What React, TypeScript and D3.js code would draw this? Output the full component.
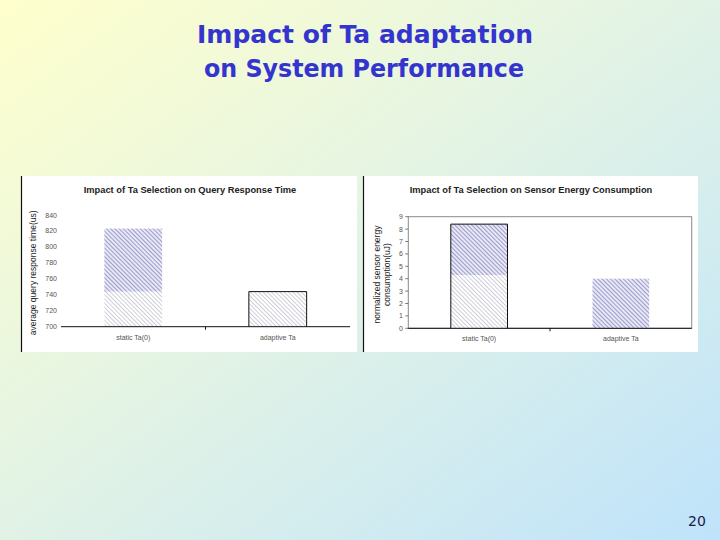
import React from "react";
import * as d3 from "d3";

const categories = ["static Ta(0)", "adaptive Ta"];
const responseTime = [823, 744];
const responseLightTop = [744, 744];
const responseTicks = [700, 720, 740, 760, 780, 800, 820, 840];
const energy = [8.4, 4.0];
const energyLightTop = [4.3, 0];
const energyTicks = [0, 1, 2, 3, 4, 5, 6, 7, 8, 9];

const FONT = "'Liberation Sans', Arial, sans-serif";

type ChartProps = {
  ox: number; oy: number; w: number; h: number;
  title: string; titleX: number;
  ylabel: string[]; ylabelX: number;
  plot: { x0: number; x1: number; y0: number; y1: number };
  domain: [number, number];
  ticks: number[];
  values: number[];
  lightTop: number[];
  outlined: boolean[];
  box: boolean;
  tickLabelX: number;
};

function Chart(p: ChartProps) {
  const x = d3.scaleBand<string>().domain(categories).range([p.plot.x0, p.plot.x1]).paddingInner(0.6).paddingOuter(0.3);
  const y = d3.scaleLinear().domain(p.domain).range([p.plot.y1, p.plot.y0]);
  const midX = (p.plot.x0 + p.plot.x1) / 2;
  return (
    <g>
      <rect x={p.ox} y={p.oy} width={p.w} height={p.h} fill="#ffffff" />
      <line x1={p.ox + 0.5} x2={p.ox + 0.5} y1={p.oy} y2={p.oy + p.h} stroke="#111" strokeWidth={1.2} />
      <text x={p.titleX} y={p.oy + 17} textAnchor="middle" fontFamily={FONT} fontWeight="bold" fontSize={9.3} fill="#222">{p.title}</text>
      {p.ylabel.map((l, i) => (
        <text key={i} transform={`translate(${p.ylabelX + i * 10},${(p.plot.y0 + p.plot.y1) / 2 + 2}) rotate(-90)`} textAnchor="middle" fontFamily={FONT} fontSize={8.5} fill="#222">{l}</text>
      ))}
      {p.box && (
        <rect x={p.plot.x0} y={p.plot.y0} width={p.plot.x1 - p.plot.x0} height={p.plot.y1 - p.plot.y0} fill="none" stroke="#8a8a8a" strokeWidth={1} />
      )}
      {p.ticks.map((t) => (
        <g key={t}>
          <text x={p.tickLabelX} y={y(t) + 2.5} textAnchor="end" fontFamily={FONT} fontSize={7} fill="#555">{t}</text>
          {p.box && <line x1={p.plot.x0 - 3} x2={p.plot.x0} y1={y(t)} y2={y(t)} stroke="#555" strokeWidth={0.8} />}
        </g>
      ))}
      {categories.map((c, i) => {
        const bx = x(c)!;
        const bw = x.bandwidth();
        const top = y(p.values[i]);
        const split = y(Math.max(p.domain[0], Math.min(p.lightTop[i], p.values[i])));
        const base = y(p.domain[0]);
        return (
          <g key={c}>
            <rect x={bx} y={split} width={bw} height={base - split} fill="url(#hatchLight)" />
            <rect x={bx} y={top} width={bw} height={split - top} fill="url(#hatchDark)" />
            {p.outlined[i] && (
              <path d={`M${bx},${base}V${top}H${bx + bw}V${base}`} fill="none" stroke="#111" strokeWidth={1} />
            )}
            <text x={bx + bw / 2} y={p.plot.y1 + 13} textAnchor="middle" fontFamily={FONT} fontSize={7} fill="#555">{c}</text>
          </g>
        );
      })}
      <line x1={p.plot.x0} x2={p.plot.x1} y1={p.plot.y1} y2={p.plot.y1} stroke="#111" strokeWidth={1} />
      <line x1={midX} x2={midX} y1={p.plot.y1} y2={p.plot.y1 + 3} stroke="#111" strokeWidth={1} />
    </g>
  );
}

export default function App() {
  return (
    <svg width={720} height={540} style={{ position: "absolute", left: 0, top: 0 }}>
      <defs>
        <linearGradient id="bg" x1="0" y1="0" x2="1" y2="1">
          <stop offset="0" stopColor="#ffffcc" />
          <stop offset="0.45" stopColor="#e4f4e4" />
          <stop offset="1" stopColor="#bfe3fb" />
        </linearGradient>
        <pattern id="hatchDark" width={3} height={3} patternUnits="userSpaceOnUse" patternTransform="rotate(-45)">
          <rect width={3} height={3} fill="#e8e8f4" />
          <line x1={0} y1={0} x2={0} y2={3} stroke="#7c7cc0" strokeWidth={1.4} />
        </pattern>
        <pattern id="hatchLight" width={3} height={3} patternUnits="userSpaceOnUse" patternTransform="rotate(-45)">
          <rect width={3} height={3} fill="#ffffff" />
          <line x1={0} y1={0} x2={0} y2={3} stroke="#a6a6b8" strokeWidth={1.1} />
        </pattern>
      </defs>
      <rect width={720} height={540} fill="url(#bg)" />
      <text x={365} y={43} textAnchor="middle" fontFamily="'DejaVu Sans', sans-serif" fontWeight="bold" fontSize={24} fill="#3434cf" textLength={336} lengthAdjust="spacingAndGlyphs">Impact of Ta adaptation</text>
      <text x={364} y={77} textAnchor="middle" fontFamily="'DejaVu Sans', sans-serif" fontWeight="bold" fontSize={24} fill="#3434cf" textLength={320} lengthAdjust="spacingAndGlyphs">on System Performance</text>

      <Chart ox={21} oy={176} w={336} h={176} title="Impact of Ta Selection on Query Response Time" titleX={190}
        ylabel={["average query response time(us)"]} ylabelX={36}
        plot={{ x0: 61, x1: 350, y0: 215, y1: 326.7 }} domain={[700, 840]} ticks={responseTicks}
        values={responseTime} lightTop={responseLightTop} outlined={[false, true]} box={false} tickLabelX={57} />
      <Chart ox={363} oy={176} w={335} h={176} title="Impact of Ta Selection on Sensor Energy Consumption" titleX={531}
        ylabel={["normalized sensor energy", "consumption(uJ)"]} ylabelX={380}
        plot={{ x0: 408.3, x1: 691.7, y0: 216.7, y1: 328.3 }} domain={[0, 9]} ticks={energyTicks}
        values={energy} lightTop={energyLightTop} outlined={[true, false]} box={true} tickLabelX={403} />

      <text x={697} y={526} textAnchor="middle" fontFamily="'DejaVu Sans', sans-serif" fontSize={14} fill="#1a1a50">20</text>
    </svg>
  );
}
